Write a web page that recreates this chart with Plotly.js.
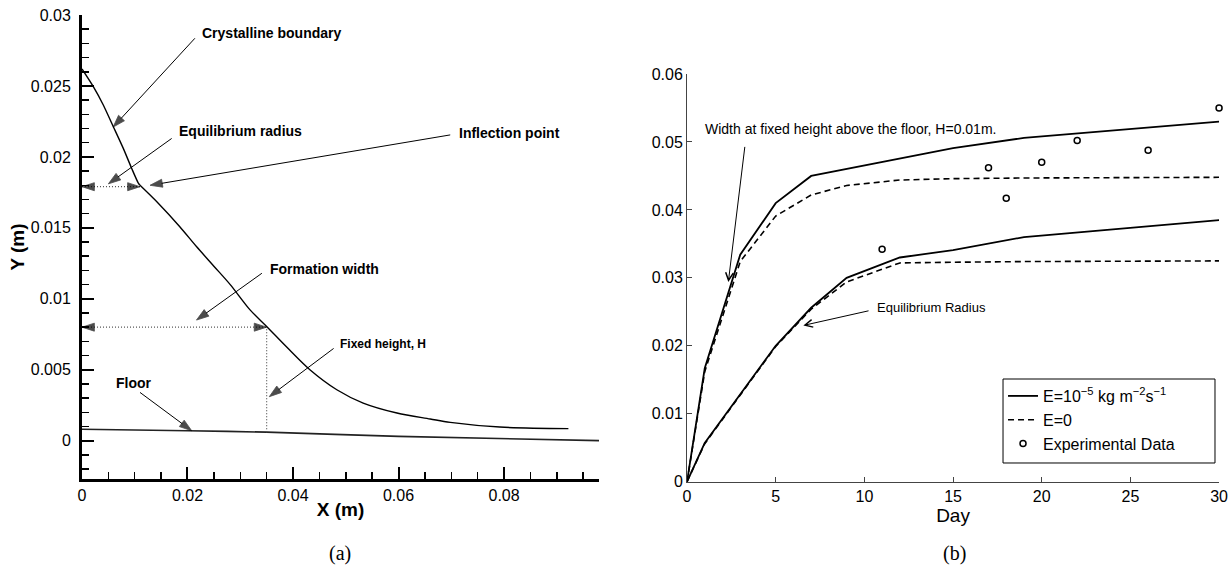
<!DOCTYPE html>
<html>
<head>
<meta charset="utf-8">
<script src="https://cdn.plot.ly/plotly-3.0.1.min.js"></script>
<style>
  html, body { margin: 0; padding: 0; background: #fff; }
  #chart { width: 1231px; height: 569px; }
</style>
</head>
<body>
<div id="chart"></div>
<script>
// ---------- (a) profile of the formation ----------
const boundaryX = [0, 0.00215, 0.00404, 0.00594, 0.00783, 0.00941, 0.01068, 0.011,
  0.0145, 0.0185, 0.0217, 0.025, 0.0281, 0.0319, 0.035, 0.0388, 0.0432, 0.0483,
  0.0533, 0.0597, 0.066, 0.0698, 0.0792, 0.0922];
const boundaryY = [0.0262, 0.02495, 0.02366, 0.02213, 0.0206, 0.0192, 0.01815, 0.0180,
  0.01672, 0.0151, 0.01368, 0.0123, 0.0110, 0.0092, 0.00805, 0.0066, 0.0050, 0.00359,
  0.00265, 0.00195, 0.00153, 0.00129, 0.00096, 0.00085];
const floorX = [0, 0.02, 0.035, 0.06, 0.098];
const floorY = [0.0008, 0.0007, 0.0006, 0.0003, 0.0];
const inflectionX = 0.011;      // equilibrium radius (m)
const eqRadiusY = 0.0179;       // height of the inflection point (m)
const fixedHeightX = 0.035;     // formation width at H (m)
const widthLevelY = 0.008;      // level of the width measurement (m)
const floorAtWidth = 0.0006;

// ---------- (b) growth over time ----------
const daysWidthE = [0, 1, 3, 5, 7, 15, 19, 30];
const widthE     = [0, 0.0167, 0.0334, 0.0410, 0.0450, 0.0491, 0.0506, 0.0530];
const daysWidth0 = [0, 1, 3, 5, 7, 9, 12, 15, 19, 30];
const width0     = [0, 0.0162, 0.0324, 0.0391, 0.0422, 0.0436, 0.0444, 0.0446, 0.0447, 0.0448];
const daysRadiusE = [0, 1, 5, 7, 9, 12, 15, 19, 30];
const radiusE     = [0, 0.0057, 0.0200, 0.0256, 0.0300, 0.0330, 0.0341, 0.0360, 0.0385];
const daysRadius0 = [0, 1, 5, 7, 9, 12, 15, 19, 30];
const radius0     = [0, 0.0056, 0.0199, 0.0254, 0.0294, 0.0322, 0.0323, 0.0324, 0.0325];
const expDays  = [11, 17, 18, 20, 22, 26, 30];
const expWidth = [0.0342, 0.0462, 0.0417, 0.0470, 0.0502, 0.0488, 0.0550];

const FONT = 'Liberation Sans, Arial, Helvetica, sans-serif';
const SERIF = 'Liberation Serif, DejaVu Serif, serif';

// the boundary has a sharp corner at the inflection point: draw each side as its own smooth curve
const kink = boundaryX.indexOf(inflectionX);

function pointer(tail, tip, xa, ya) {
  return {
    x: [tail[0], tip[0]], y: [tail[1], tip[1]], xaxis: xa, yaxis: ya,
    mode: 'lines+markers', showlegend: false, hoverinfo: 'skip',
    line: { color: '#000', width: 1 },
    marker: { symbol: 'arrow', size: [0, 13], angleref: 'previous', color: '#000',
              line: { width: 0.8, color: '#000' } }
  };
}
function headOnly(from, tip) {
  return {
    x: [from[0], tip[0]], y: [from[1], tip[1]], xaxis: 'x', yaxis: 'y',
    mode: 'markers', showlegend: false, hoverinfo: 'skip',
    marker: { symbol: 'arrow', size: [0, 13], angleref: 'previous', color: '#000',
              line: { width: 0.8, color: '#000' } }
  };
}
function dotted(xs, ys) {
  return {
    x: xs, y: ys, xaxis: 'x', yaxis: 'y', mode: 'lines', showlegend: false, hoverinfo: 'skip',
    line: { color: '#555', width: 1.2, dash: '1px,2px' }
  };
}

const traces = [
  // (a)
  { x: boundaryX.slice(0, kink + 1), y: boundaryY.slice(0, kink + 1), xaxis: 'x', yaxis: 'y',
    mode: 'lines', showlegend: false, line: { color: '#000', width: 1.4, shape: 'spline', smoothing: 0.6 } },
  { x: boundaryX.slice(kink), y: boundaryY.slice(kink), xaxis: 'x', yaxis: 'y',
    mode: 'lines', showlegend: false, line: { color: '#000', width: 1.4, shape: 'spline', smoothing: 0.9 } },
  { x: floorX, y: floorY, xaxis: 'x', yaxis: 'y', mode: 'lines', showlegend: false,
    line: { color: '#222', width: 1.6, shape: 'spline', smoothing: 0.6 } },
  dotted([0, inflectionX], [eqRadiusY, eqRadiusY]),
  headOnly([inflectionX / 2, eqRadiusY], [0, eqRadiusY]),
  headOnly([inflectionX / 2, eqRadiusY], [inflectionX, eqRadiusY]),
  dotted([0, fixedHeightX], [widthLevelY, widthLevelY]),
  headOnly([fixedHeightX / 2, widthLevelY], [0, widthLevelY]),
  headOnly([fixedHeightX / 2, widthLevelY], [fixedHeightX, widthLevelY]),
  dotted([fixedHeightX, fixedHeightX], [floorAtWidth, widthLevelY]),
  pointer([0.0214, 0.02836], [0.0059, 0.0221], 'x', 'y'),
  pointer([0.0170, 0.0213], [0.0050, 0.0181], 'x', 'y'),
  pointer([0.0698, 0.02155], [0.0129, 0.0180], 'x', 'y'),
  pointer([0.0341, 0.0118], [0.0217, 0.0085], 'x', 'y'),
  pointer([0.0477, 0.0065], [0.0355, 0.0031], 'x', 'y'),
  pointer([0.0110, 0.0034], [0.0208, 0.0007], 'x', 'y'),
  // (b)
  { x: daysWidthE, y: widthE, xaxis: 'x2', yaxis: 'y2', mode: 'lines',
    name: 'E=10<sup>\u22125</sup> kg m<sup>\u22122</sup>s<sup>\u22121</sup>', legendgroup: 'e',
    line: { color: '#000', width: 1.8 } },
  { x: daysRadiusE, y: radiusE, xaxis: 'x2', yaxis: 'y2', mode: 'lines', showlegend: false,
    legendgroup: 'e', line: { color: '#000', width: 1.8 } },
  { x: daysWidth0, y: width0, xaxis: 'x2', yaxis: 'y2', mode: 'lines', name: 'E=0', legendgroup: 'z',
    line: { color: '#000', width: 1.6, dash: '6px,4px' } },
  { x: daysRadius0, y: radius0, xaxis: 'x2', yaxis: 'y2', mode: 'lines', showlegend: false,
    legendgroup: 'z', line: { color: '#000', width: 1.6, dash: '6px,4px' } },
  { x: expDays, y: expWidth, xaxis: 'x2', yaxis: 'y2', mode: 'markers', name: 'Experimental Data',
    cliponaxis: false,
    marker: { symbol: 'circle-open', size: 6, color: '#000', line: { width: 1.5, color: '#000' } } }
];

function label(text, x, y, xref, yref, size, bold) {
  return { text: bold ? '<b>' + text + '</b>' : text, x: x, y: y, xref: xref, yref: yref,
    xanchor: 'left', yanchor: 'middle', showarrow: false,
    font: { family: FONT, size: size, color: '#000' } };
}

const annotations = [
  label('Crystalline boundary', 0.0224, 0.0287, 'x', 'y', 14, true),
  label('Equilibrium radius', 0.0180, 0.0218, 'x', 'y', 14, true),
  label('Inflection point', 0.0711, 0.0217, 'x', 'y', 14, true),
  label('Formation width', 0.0353, 0.0121, 'x', 'y', 14, true),
  label('Fixed height, H', 0.0486, 0.0068, 'x', 'y', 12, true),
  label('Floor', 0.0061, 0.0041, 'x', 'y', 14, true),
  label('Width at fixed height above the floor, H=0.01m.', 0.9, 0.0519, 'x2', 'y2', 14, false),
  label('Equilibrium Radius', 10.6, 0.0256, 'x2', 'y2', 13, false),
  { text: '', x: 2.33, y: 0.0294, ax: 3.27, ay: 0.0495, xref: 'x2', yref: 'y2', axref: 'x2', ayref: 'y2',
    showarrow: true, arrowhead: 5, arrowsize: 1.5, arrowwidth: 1, arrowcolor: '#000' },
  { text: '', x: 6.56, y: 0.0230, ax: 10.32, ay: 0.0252, xref: 'x2', yref: 'y2', axref: 'x2', ayref: 'y2',
    showarrow: true, arrowhead: 5, arrowsize: 1.5, arrowwidth: 1, arrowcolor: '#000' },
  { text: '(a)', x: 0.2762, y: 0.028, xref: 'paper', yref: 'paper', showarrow: false,
    xanchor: 'center', yanchor: 'middle', font: { family: SERIF, size: 20, color: '#000' } },
  { text: '(b)', x: 0.775, y: 0.028, xref: 'paper', yref: 'paper', showarrow: false,
    xanchor: 'center', yanchor: 'middle', font: { family: SERIF, size: 20, color: '#000' } }
];

const thickAxis = {
  showline: true, linewidth: 3, linecolor: '#000', mirror: false,
  ticks: 'inside', ticklen: 12, tickwidth: 2, tickcolor: '#000',
  showgrid: false, zeroline: false, tickfont: { family: FONT, size: 16, color: '#000' }
};
const thinAxis = {
  showline: true, linewidth: 1, linecolor: '#444', mirror: false,
  ticks: 'inside', ticklen: 5, tickwidth: 1, tickcolor: '#444',
  showgrid: false, zeroline: false, tickfont: { family: FONT, size: 16, color: '#000' }
};

// legend frame, drawn a little wider than the entries need
const legendLeft = 0.8148, legendTop = 0.3339;

const layout = {
  width: 1231, height: 569,
  margin: { l: 0, r: 0, t: 0, b: 0 },
  paper_bgcolor: '#fff', plot_bgcolor: 'rgba(0,0,0,0)',
  font: { family: FONT, color: '#000', size: 16 },
  xaxis: Object.assign({}, thickAxis, {
    domain: [0.0666, 0.4866], range: [0, 0.098], anchor: 'y',
    tick0: 0, dtick: 0.02, ticklabelstandoff: 0,
    minor: { dtick: 0.005, tick0: 0, ticks: 'inside', ticklen: 7, tickwidth: 1.5, tickcolor: '#000' },
    title: { text: '<b>X (m)</b>', font: { family: FONT, size: 19 }, standoff: 0 }
  }),
  yaxis: Object.assign({}, thickAxis, {
    domain: [0.1582, 0.9736], range: [-0.0027, 0.03], anchor: 'x',
    tick0: 0, dtick: 0.005, ticklabelstandoff: 5,
    minor: { dtick: 0.001, tick0: 0, ticks: 'inside', ticklen: 7, tickwidth: 1.5, tickcolor: '#000' },
    title: { text: '<b>Y (m)</b>', font: { family: FONT, size: 19 }, standoff: 2 }
  }),
  xaxis2: Object.assign({}, thinAxis, {
    domain: [0.5581, 0.9903], range: [0, 30], anchor: 'y2', tick0: 0, dtick: 5,
    ticklabelstandoff: 0,
    title: { text: 'Day', font: { family: FONT, size: 19 }, standoff: 0 }
  }),
  yaxis2: Object.assign({}, thinAxis, {
    domain: [0.1534, 0.8699], range: [0, 0.06], anchor: 'x2', tick0: 0, dtick: 0.01
  }),
  showlegend: true,
  legend: {
    x: legendLeft, y: legendTop, xanchor: 'left', yanchor: 'top',
    bgcolor: 'rgba(0,0,0,0)', borderwidth: 0,
    font: { family: FONT, size: 16, color: '#000' }, tracegroupgap: 0
  },
  shapes: [
    { type: 'rect', xref: 'paper', yref: 'paper', layer: 'above',
      x0: legendLeft, x1: 0.987, y0: 0.1863, y1: legendTop,
      line: { color: '#000', width: 1 }, fillcolor: '#fff' }
  ],
  annotations: annotations
};

Plotly.newPlot('chart', traces, layout, { staticPlot: true, displayModeBar: false });
</script>
</body>
</html>
